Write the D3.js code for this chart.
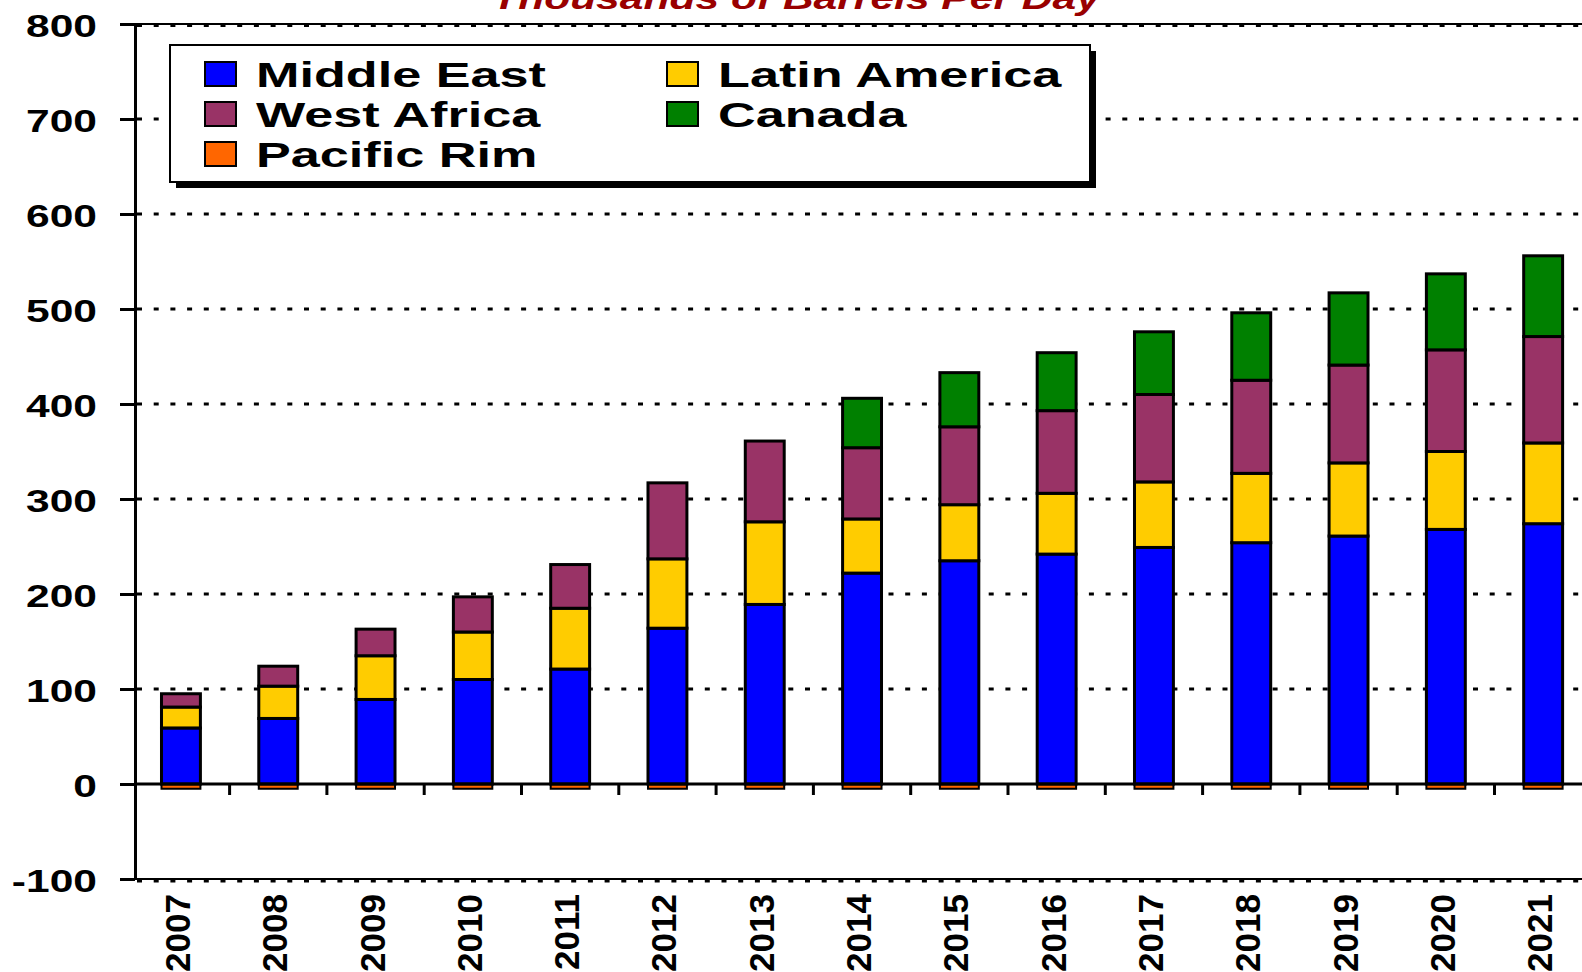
<!DOCTYPE html>
<html>
<head>
<meta charset="utf-8">
<script src="https://cdn.jsdelivr.net/npm/d3@7"></script>
<style>
  html, body { margin: 0; padding: 0; background: #fff; overflow: hidden; }
  svg { display: block; font-family: "Liberation Sans", Arial, sans-serif; font-weight: bold; }
</style>
</head>
<body>
<svg id="chart" width="1582" height="972"></svg>
<script>
// ---- data ----
const years = ["2007","2008","2009","2010","2011","2012","2013","2014","2015","2016","2017","2018","2019","2020","2021"];
const middleEast   = [59, 69, 89, 110, 121, 164, 189, 222, 235, 242, 249, 254, 261, 268, 274];
const latinAmerica = [22, 34, 46, 50, 64, 73, 87, 57, 59, 64, 69, 73, 77, 82, 85];
const westAfrica   = [14, 21, 28, 37, 46, 80, 85, 75, 82, 87, 92, 98, 103, 107, 112];
const canada       = [0, 0, 0, 0, 0, 0, 0, 52, 57, 61, 66, 71, 76, 80, 85];
const pacificRim   = [-5, -5, -5, -5, -5, -5, -5, -5, -5, -5, -5, -5, -5, -5, -5];
const yTicks = [-100, 0, 100, 200, 300, 400, 500, 600, 700, 800];
const seriesNames = ["Middle East", "West Africa", "Pacific Rim", "Latin America", "Canada"];
const titleText = "Thousands of Barrels Per Day";

const colors = {
  "Middle East": "#0000FF",
  "Latin America": "#FFCC00",
  "West Africa": "#993366",
  "Canada": "#008000",
  "Pacific Rim": "#FF6600"
};

const table = years.map((y, i) => ({
  year: y,
  "Pacific Rim": pacificRim[i],
  "Middle East": middleEast[i],
  "Latin America": latinAmerica[i],
  "West Africa": westAfrica[i],
  "Canada": canada[i]
}));
const stackKeys = ["Pacific Rim", "Middle East", "Latin America", "West Africa", "Canada"];

// ---- layout ----
const svg = d3.select("#chart");
const axisX = 135;
const x = d3.scaleBand().domain(years).range([132.3, 132.3 + 97.3 * 15]).paddingInner(0.6).paddingOuter(0.3);
const y = d3.scaleLinear().domain([-100, 800]).range([879, 24]);
const plotRight = 1582;

// title
svg.append("text")
  .attr("transform", `translate(796,9) scale(1.33,1)`)
  .attr("text-anchor", "middle")
  .attr("font-size", 32)
  .attr("font-style", "italic")
  .attr("fill", "#990000")
  .text(titleText);

// gridlines (dotted)
svg.append("g").selectAll("line").data(yTicks.filter(d => d !== 0)).join("line")
  .attr("x1", axisX + 2).attr("x2", plotRight)
  .attr("y1", d => y(d) + (d === 800 ? 1.5 : d === -100 ? 2 : 0))
  .attr("y2", d => y(d) + (d === 800 ? 1.5 : d === -100 ? 2 : 0))
  .attr("stroke", "#000").attr("stroke-width", 3)
  .attr("stroke-dasharray", "5,11.7");

// frame lines at top and bottom
[800, -100].forEach(v => {
  svg.append("line").attr("x1", axisX).attr("x2", plotRight)
    .attr("y1", y(v)).attr("y2", y(v))
    .attr("stroke", "#000").attr("stroke-width", 2);
});

// stacked bars
const stacked = d3.stack().keys(stackKeys).offset(d3.stackOffsetDiverging)(table);
const barG = svg.append("g");
stacked.forEach(s => {
  barG.append("g").selectAll("rect")
    .data(s.filter(d => d[1] - d[0] !== 0))
    .join("rect")
    .attr("x", d => x(d.data.year))
    .attr("width", x.bandwidth())
    .attr("y", d => y(Math.max(d[0], d[1])))
    .attr("height", d => Math.abs(y(d[0]) - y(d[1])))
    .attr("fill", colors[s.key])
    .attr("stroke", "#000")
    .attr("stroke-width", s.key === "Pacific Rim" ? 2 : 3);
});

// zero line
svg.append("line").attr("x1", axisX).attr("x2", plotRight)
  .attr("y1", y(0)).attr("y2", y(0)).attr("stroke", "#000").attr("stroke-width", 3);

// category boundary ticks below zero line
svg.append("g").selectAll("line").data(years.slice(1)).join("line")
  .attr("x1", d => x(d) + x.bandwidth() / 2 - x.step() / 2)
  .attr("x2", d => x(d) + x.bandwidth() / 2 - x.step() / 2)
  .attr("y1", y(0)).attr("y2", y(0) + 11)
  .attr("stroke", "#000").attr("stroke-width", 3);

// y axis
const yAxis = svg.append("g").attr("transform", `translate(${axisX},0)`)
  .call(d3.axisLeft(y).tickValues(yTicks).tickFormat(d => String(d)).tickSize(15).tickSizeOuter(0));
yAxis.select(".domain").attr("stroke", "#000").attr("stroke-width", 3);
yAxis.selectAll(".tick line").attr("stroke", "#000").attr("stroke-width", 3);
yAxis.selectAll(".tick text")
  .attr("x", 0).attr("dy", null).attr("y", 12.5)
  .attr("transform", "translate(-38,0) scale(1.33,1)")
  .attr("font-size", 32).attr("font-family", "'Liberation Sans', Arial, sans-serif")
  .attr("font-weight", "bold").attr("fill", "#000").attr("text-anchor", "end");

// x labels
svg.append("g").selectAll("text").data(years).join("text")
  .attr("transform", d => `translate(${x(d) + x.bandwidth() / 2},894) rotate(-90)`)
  .attr("y", 9)
  .attr("text-anchor", "end")
  .attr("font-size", 35)
  .text(d => d);

// legend
const lg = svg.append("g");
lg.append("rect").attr("x", 176).attr("y", 51).attr("width", 920).attr("height", 137).attr("fill", "#000");
lg.append("rect").attr("x", 170).attr("y", 45).attr("width", 920).attr("height", 137)
  .attr("fill", "#fff").attr("stroke", "#000").attr("stroke-width", 2);
const legendItems = seriesNames.map((name, i) => ({ name, col: i < 3 ? 0 : 1, row: i < 3 ? i : i - 3 }));
const item = lg.selectAll("g.item").data(legendItems).join("g").attr("class", "item")
  .attr("transform", d => `translate(${d.col === 0 ? 205 : 667},${87 + d.row * 40})`);
item.append("rect").attr("x", 0).attr("y", -25).attr("width", 31).attr("height", 24)
  .attr("fill", d => colors[d.name]).attr("stroke", "#000").attr("stroke-width", 2);
item.append("text")
  .attr("transform", "translate(51,0) scale(1.45,1)")
  .attr("font-size", 36)
  .text(d => d.name);
</script>
</body>
</html>
